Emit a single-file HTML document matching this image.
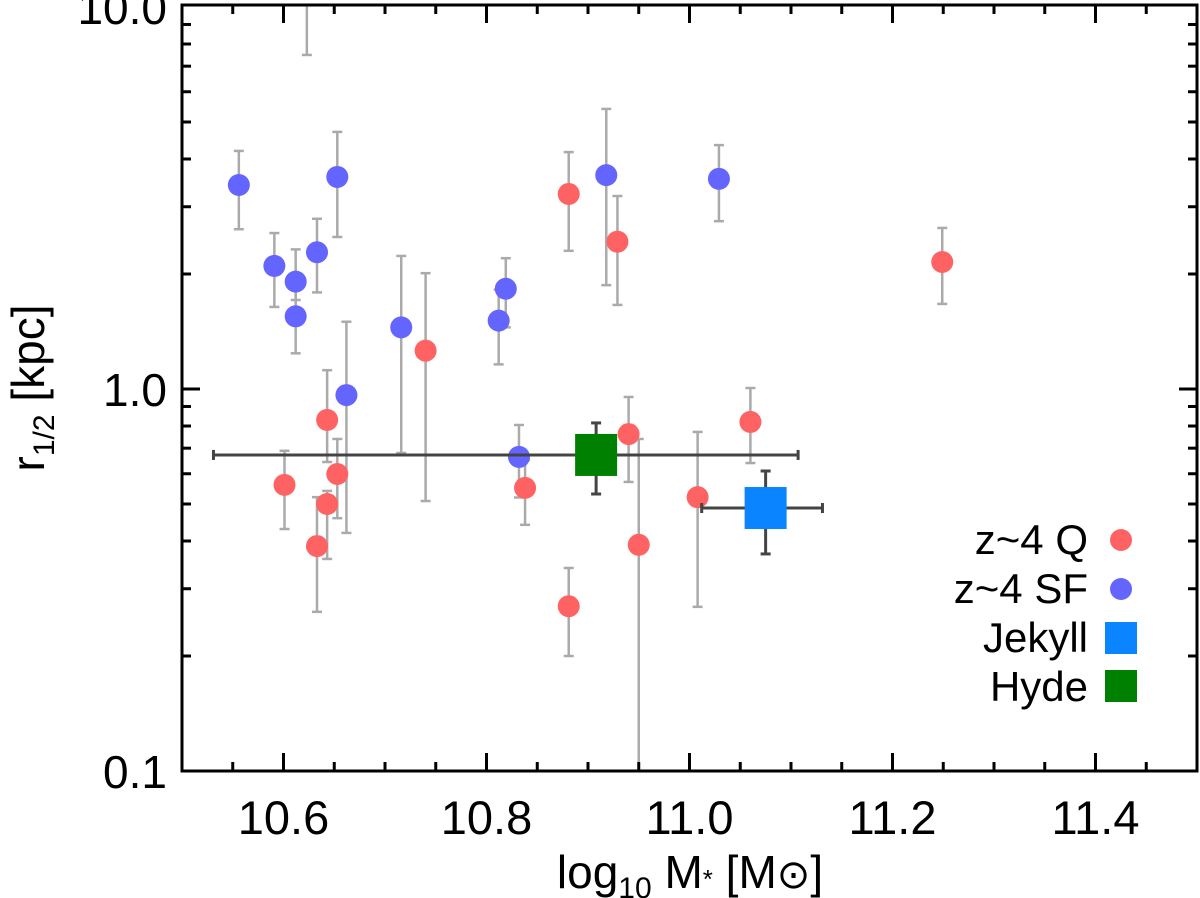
<!DOCTYPE html>
<html><head><meta charset="utf-8"><style>
html,body{margin:0;padding:0;background:#fff;}
svg{display:block;font-family:"Liberation Sans",Arial,sans-serif;}
</style></head><body>
<svg id="chart" width="1200" height="898" viewBox="0 0 1200 898" xmlns="http://www.w3.org/2000/svg">
<defs><clipPath id="clip"><rect x="182" y="5" width="1015" height="766"/></clipPath></defs>
<g id="marks" clip-path="url(#clip)"></g>
<g id="axes"></g>
<text x="690" y="888" font-size="46" text-anchor="middle">log<tspan font-size="30" dy="10">10</tspan><tspan dy="-10"> M</tspan><tspan font-size="26">*</tspan> [M<tspan font-size="40">⊙</tspan>]</text>
<text transform="translate(44,388) rotate(-90)" font-size="46" text-anchor="middle">r<tspan font-size="30" dy="10">1/2</tspan><tspan dy="-10"> [kpc]</tspan></text>
<g id="legend">
<text x="1088" y="554" font-size="42" text-anchor="end">z~4 Q</text>
<circle cx="1121" cy="540" r="11" fill="#ff6262"/>
<text x="1088" y="603" font-size="42" text-anchor="end">z~4 SF</text>
<circle cx="1121" cy="589" r="11" fill="#6464ff"/>
<text x="1088" y="652" font-size="42" text-anchor="end">Jekyll</text>
<rect x="1105" y="622" width="32" height="32" fill="#0a84ff"/>
<text x="1088" y="701" font-size="42" text-anchor="end">Hyde</text>
<rect x="1105" y="670" width="32" height="32" fill="#008000"/>
</g>
</svg>
<script>
const qMass = [10.601,10.633,10.643,10.643,10.653,10.740,10.838,10.881,10.881,10.929,10.940,10.950,11.008,11.060,11.249];
const qR    = [0.561,0.388,0.83,0.50,0.599,1.26,0.551,3.24,0.270,2.43,0.762,0.391,0.521,0.820,2.15];
const qRhi  = [0.689,0.521,1.12,0.541,0.740,2.01,0.652,4.17,0.340,3.20,0.953,0.740,0.772,1.006,2.64];
const qRlo  = [0.430,0.261,0.644,0.359,0.459,0.509,0.441,2.30,0.200,1.66,0.571,0.05,0.269,0.64,1.67];
const sfMass = [10.556,10.591,10.612,10.612,10.633,10.653,10.662,10.716,10.812,10.819,10.832,10.918,11.029,10.623];
const sfR    = [3.42,2.10,1.91,1.55,2.28,3.59,0.964,1.45,1.51,1.83,0.664,3.63,3.55,15];
const sfRhi  = [4.20,2.56,2.32,1.87,2.79,4.71,1.50,2.23,1.82,2.20,0.805,5.41,4.35,20];
const sfRlo  = [2.62,1.64,1.71,1.24,1.79,2.50,0.42,0.68,1.16,1.45,0.52,1.87,2.75,7.49];
const objNames = ["Hyde","Jekyll"];
const objMass = [10.908,11.075];
const objMassLo = [10.531,11.012];
const objMassHi = [11.107,11.131];
const objR = [0.672,0.488];
const objRlo = [0.531,0.370];
const objRhi = [0.815,0.61];
const objColors = ["#008000","#0a84ff"];
const xTicks = [10.6,10.8,11.0,11.2,11.4];
const xTickLabels = ["10.6","10.8","11.0","11.2","11.4"];
const yTicks = [0.1,1,10];
const yTickLabels = ["0.1","1.0","10.0"];

const X0=182,X1=1197,Y0=771,Y1=5;
function xs(m){return X0+(m-10.5)*1015;}
function ys(r){return 389-Math.log10(r)*382;}
const NS="http://www.w3.org/2000/svg";
const marks=document.getElementById('marks'), axes=document.getElementById('axes');
function mk(parent,tag,attrs){const e=document.createElementNS(NS,tag);for(const k in attrs)e.setAttribute(k,attrs[k]);parent.appendChild(e);return e;}
function vbar(g,x,y1,y2,col,w){
  mk(g,'line',{x1:x,x2:x,y1:y1,y2:y2,stroke:col,'stroke-width':w});
  mk(g,'line',{x1:x-5,x2:x+5,y1:y1,y2:y1,stroke:col,'stroke-width':w});
  mk(g,'line',{x1:x-5,x2:x+5,y1:y2,y2:y2,stroke:col,'stroke-width':w});
}
function hbar(g,y,x1,x2,col,w){
  mk(g,'line',{x1:x1,x2:x2,y1:y,y2:y,stroke:col,'stroke-width':w});
  mk(g,'line',{x1:x1,x2:x1,y1:y-5,y2:y+5,stroke:col,'stroke-width':w});
  mk(g,'line',{x1:x2,x2:x2,y1:y-5,y2:y+5,stroke:col,'stroke-width':w});
}
// error bars
for(let i=0;i<qMass.length;i++){
  const g=mk(marks,'g',{});
  
  
  vbar(g,xs(qMass[i]),ys(qRhi[i]),ys(qRlo[i]),'#aaaaaa',2.5);
}
for(let i=0;i<sfMass.length;i++){
  const g=mk(marks,'g',{});
  
  
  vbar(g,xs(sfMass[i]),ys(sfRhi[i]),ys(sfRlo[i]),'#aaaaaa',2.5);
}
for(let i=0;i<sfMass.length;i++){
  const c=mk(marks,'circle',{cx:xs(sfMass[i]),cy:ys(sfR[i]),r:11,fill:'#6464ff'});
  
  
}
for(let i=0;i<qMass.length;i++){
  const c=mk(marks,'circle',{cx:xs(qMass[i]),cy:ys(qR[i]),r:11,fill:'#ff6262'});
  
  
}
for(let i=0;i<objMass.length;i++){
  const g=mk(marks,'g',{});
  
  
  hbar(g,ys(objR[i]),xs(objMassLo[i]),xs(objMassHi[i]),'#444444',3);
  vbar(g,xs(objMass[i]),ys(objRhi[i]),ys(objRlo[i]),'#444444',3);
  mk(g,'rect',{x:xs(objMass[i])-21,y:ys(objR[i])-21,width:42,height:42,fill:objColors[i]});
}
// axes frame
mk(axes,'rect',{x:X0,y:Y1,width:X1-X0,height:Y0-Y1,fill:'none',stroke:'#000','stroke-width':3});
// x ticks
for(let m=10.55;m<11.5;m+=0.05){
  const mm=Math.round(m*100)/100;
  const major=Math.abs(mm*10-Math.round(mm*10))<1e-6 && Math.round(mm*10)%2===0;
  const L=major?18:9, x=xs(mm);
  mk(axes,'line',{x1:x,x2:x,y1:Y0,y2:Y0-L,stroke:'#000','stroke-width':3});
  mk(axes,'line',{x1:x,x2:x,y1:Y1,y2:Y1+L,stroke:'#000','stroke-width':3});
}
for(let i=0;i<xTicks.length;i++){
  const t=mk(axes,'text',{x:xs(xTicks[i]),y:834,'font-size':47,'text-anchor':'middle'});
  t.textContent=xTickLabels[i];
  
  
}
// y ticks
for(let d=0.1;d<10;d*=10){
  for(let k=1;k<10;k++){
    const v=d*k, y=ys(v); const L=k===1?18:9;
    mk(axes,'line',{x1:X0,x2:X0+L,y1:y,y2:y,stroke:'#000','stroke-width':3});
    mk(axes,'line',{x1:X1,x2:X1-L,y1:y,y2:y,stroke:'#000','stroke-width':3});
  }
}
for(let i=0;i<yTicks.length;i++){
  const t=mk(axes,'text',{x:167,y:ys(yTicks[i])+17,'font-size':46,'text-anchor':'end'});
  t.textContent=yTickLabels[i];
  
  
}
</script>
</body></html>
